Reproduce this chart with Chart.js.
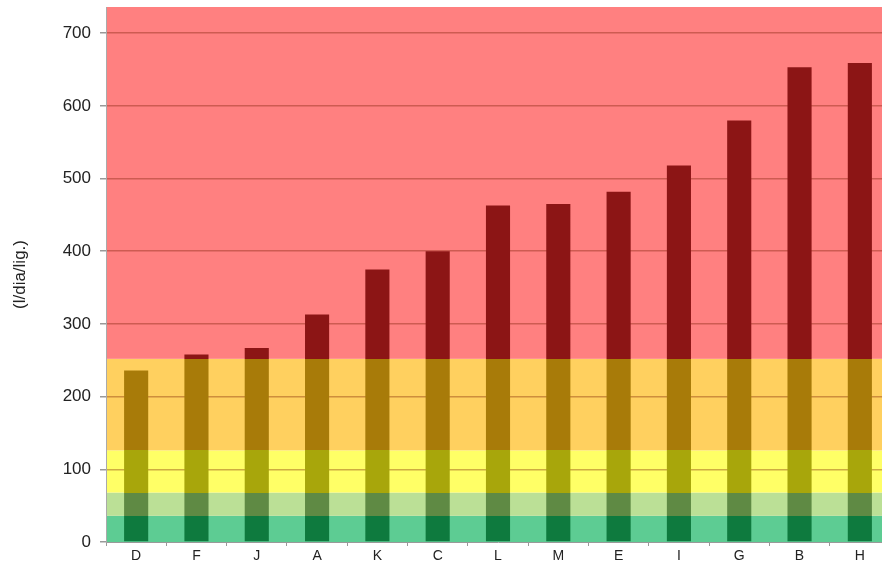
<!DOCTYPE html>
<html>
<head>
<meta charset="utf-8">
<script src="https://cdn.jsdelivr.net/npm/chart.js@4"></script>
<style>
  html, body { margin: 0; padding: 0; background: #fff; overflow: hidden; }
  #wrap { width: 890px; height: 566px; }
</style>
</head>
<body>
<div id="wrap"><canvas id="c" width="890" height="566" style="width:890px;height:566px"></canvas></div>
<script>
// Consumption per connection, litres per day
const categories = ['D', 'F', 'J', 'A', 'K', 'C', 'L', 'M', 'E', 'I', 'G', 'B', 'H'];
const consumption = [236, 258, 267, 313, 375, 400, 463, 465, 482, 518, 580, 653, 659];
const yTicks = [0, 100, 200, 300, 400, 500, 600, 700];
const yMax = 736;

// Classification bands (upper limit of each band) with their fill and bar tones
const bandLimits = [36, 68, 126, 252, yMax];
const bandFills  = ['#5dcc93', '#bbe096', '#ffff66', '#ffd05f', '#ff8080'];
const bandBars   = ['#0e7a3e', '#5f8a44', '#a8a60b', '#a87b09', '#8c1515'];

const font = "'Liberation Sans', Arial, sans-serif";

// Paint the classification bands behind the grid
const bandBackground = {
  id: 'bandBackground',
  beforeDraw(chart) {
    const { ctx, chartArea: a, scales: { y } } = chart;
    ctx.save();
    let lower = 0;
    bandLimits.forEach((limit, i) => {
      const top = y.getPixelForValue(limit);
      const bottom = y.getPixelForValue(lower);
      ctx.fillStyle = bandFills[i];
      ctx.fillRect(a.left, top, a.right - a.left, bottom - top);
      lower = limit;
    });
    ctx.restore();
  }
};

// Bars change tone at every band limit
let barGradient = null;
function barFill(context) {
  const chart = context.chart;
  const { chartArea, scales } = chart;
  if (!chartArea || !scales.y) return bandBars[4];
  const y = scales.y;
  const y0 = y.getPixelForValue(0);
  const y1 = y.getPixelForValue(yMax);
  if (barGradient && barGradient._y0 === y0 && barGradient._y1 === y1) return barGradient;
  const g = chart.ctx.createLinearGradient(0, y0, 0, y1);
  let lower = 0;
  bandLimits.forEach((limit, i) => {
    g.addColorStop(lower / yMax, bandBars[i]);
    g.addColorStop(Math.min(limit / yMax, 1), bandBars[i]);
    lower = limit;
  });
  g._y0 = y0; g._y1 = y1;
  barGradient = g;
  return g;
}

new Chart(document.getElementById('c'), {
  type: 'bar',
  data: {
    labels: categories,
    datasets: [{
      data: consumption,
      backgroundColor: barFill,
      borderWidth: 0,
      categoryPercentage: 1,
      barPercentage: 0.4
    }]
  },
  options: {
    responsive: false,
    animation: false,
    layout: { padding: { top: 7, right: 0, bottom: 0, left: 0 } },
    plugins: { legend: { display: false }, tooltip: { enabled: false } },
    scales: {
      x: {
        offset: true,
        grid: { display: true, drawOnChartArea: false, drawTicks: true, tickLength: 4, color: '#999', offset: true },
        border: { display: true, color: '#999', width: 1 },
        ticks: { color: '#222', font: { family: font, size: 14 }, padding: 2, maxRotation: 0 },
        afterFit(scale) { scale.height = 24; scale.paddingLeft = 0; scale.paddingRight = 0; }
      },
      y: {
        min: 0,
        max: yMax,
        afterBuildTicks(scale) { scale.ticks = yTicks.map(v => ({ value: v })); },
        grid: {
          color: ctx => (ctx.tick && ctx.tick.value === 0) ? 'rgba(0,0,0,0)' : 'rgba(120,25,0,0.36)',
          lineWidth: 1.5,
          tickColor: '#999',
          tickLength: 6,
          drawTicks: true
        },
        border: { display: true, color: '#aaa', width: 1 },
        ticks: { color: '#222', font: { family: font, size: 17 }, padding: 9 },
        title: {
          display: true,
          text: '(l/dia/lig.)',
          color: '#222',
          font: { family: font, size: 17 },
          padding: { top: 10, bottom: 0 }
        },
        afterFit(scale) { scale.width = 106; scale.paddingTop = 0; scale.paddingBottom = 0; }
      }
    }
  },
  plugins: [bandBackground]
});
</script>
</body>
</html>
